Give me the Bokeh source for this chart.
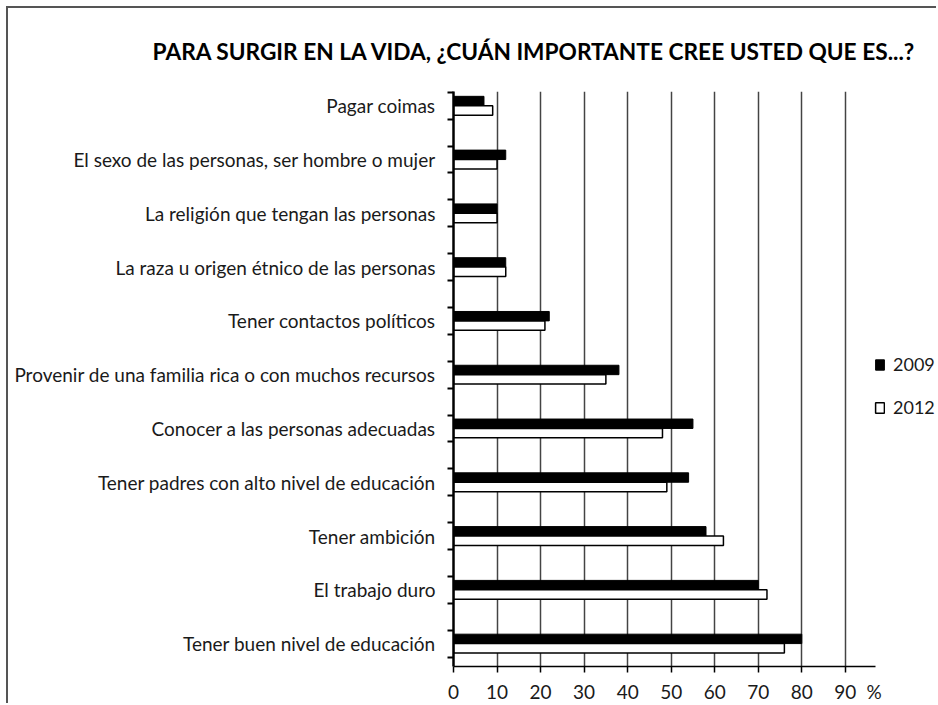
from bokeh.plotting import figure
from bokeh.models import (FixedTicker, Legend, LegendItem, Range1d,
                          ColumnDataSource, Title)
from bokeh.transform import dodge
from bokeh.embed import file_html
from bokeh.resources import INLINE

# ---------------- data (top to bottom as in the chart) ----------------
categories = [
    "Pagar coimas",
    "El sexo de las personas, ser hombre o mujer",
    "La religión que tengan las personas",
    "La raza u origen étnico de las personas",
    "Tener contactos políticos",
    "Provenir de una familia rica o con muchos recursos",
    "Conocer a las personas adecuadas",
    "Tener padres con alto nivel de educación",
    "Tener ambición",
    "El trabajo duro",
    "Tener buen nivel de educación",
]
values_2009 = [7, 12, 10, 12, 22, 38, 55, 54, 58, 70, 80]
values_2012 = [9, 10, 10, 12, 21, 35, 48, 49, 62, 72, 76]
x_ticks = [0, 10, 20, 30, 40, 50, 60, 70, 80, 90]
axis_end = 97
unit_tick = 96.6
series_names = ["2009", "2012"]
title_text = "PARA SURGIR EN LA VIDA, ¿CUÁN IMPORTANTE CREE USTED QUE ES...?"
unit_label = "%"

n = len(categories)
pos = [n - 1 - i for i in range(n)]  # first category at the top
src = ColumnDataSource(dict(y=pos, v2009=values_2009, v2012=values_2012))

FONT = "Lato"
TEXT_COLOR = "#1a1a1a"

y_lo, y_hi = -0.426, n - 1 + 0.265
p = figure(width=930, height=697, output_backend="svg", toolbar_location=None,
           x_range=Range1d(0, 111.4), y_range=Range1d(y_lo, y_hi),
           min_border_left=445, min_border_right=0, min_border_top=82,
           min_border_bottom=38)
p.styles = {"box-shadow": "-2px -2px 0 0 #555", "margin-top": "8px",
            "margin-left": "8px"}
p.outline_line_color = None
p.background_fill_color = "white"
p.border_fill_color = "white"

t = Title(text=title_text, align="left", offset=-301, standoff=54,
          text_font=FONT, text_font_size="22.7px", text_font_style="bold",
          text_color="black")
p.add_layout(t, "above")

bh = 0.175
r09 = p.hbar(y=dodge("y", 0.0875), left=0, right="v2009", height=bh, source=src,
             fill_color="black", line_color="black", line_width=1)
r12 = p.hbar(y=dodge("y", -0.0875), left=0, right="v2012", height=bh, source=src,
             fill_color="white", line_color="black", line_width=1.5)

# x axis: tick marks drawn as "minor" ticks so the "%" label gets no mark
p.xaxis.bounds = (-1.4, axis_end)
p.xaxis.ticker = FixedTicker(ticks=x_ticks + [unit_tick], minor_ticks=x_ticks)
p.xaxis.major_label_overrides = {unit_tick: unit_label}
p.xaxis.major_tick_out = 0
p.xaxis.major_tick_in = 0
p.xaxis.minor_tick_out = 6
p.xaxis.minor_tick_in = 0
p.xaxis.minor_tick_line_color = "black"
p.xaxis.minor_tick_line_width = 1.5
p.xaxis.axis_line_color = "black"
p.xaxis.axis_line_width = 1.5
p.xaxis.major_label_text_font = FONT
p.xaxis.major_label_text_font_size = "19px"
p.xaxis.major_label_text_color = TEXT_COLOR
p.xaxis.major_label_standoff = 7

p.xgrid.ticker = FixedTicker(ticks=x_ticks[1:])
p.xgrid.grid_line_color = "#444"
p.xgrid.grid_line_width = 1.5
p.ygrid.grid_line_color = None

# y axis
minor = []
for y in pos:
    minor += [y - 0.25, y + 0.25]
p.yaxis.bounds = (y_lo - 0.11, y_hi)
p.yaxis.ticker = FixedTicker(ticks=pos, minor_ticks=minor)
p.yaxis.major_label_overrides = {y: c for y, c in zip(pos, categories)}
p.yaxis.major_tick_out = 0
p.yaxis.major_tick_in = 0
p.yaxis.minor_tick_out = 6
p.yaxis.minor_tick_in = 0
p.yaxis.minor_tick_line_color = "black"
p.yaxis.minor_tick_line_width = 2
p.yaxis.axis_line_color = "black"
p.yaxis.axis_line_width = 2.5
p.yaxis.major_label_text_font = FONT
p.yaxis.major_label_text_font_size = "19px"
p.yaxis.major_label_text_color = TEXT_COLOR
p.yaxis.major_label_standoff = 12

legend = Legend(items=[LegendItem(label=series_names[0], renderers=[r09]),
                       LegendItem(label=series_names[1], renderers=[r12])],
                location=(421, 248), orientation="vertical",
                glyph_width=11, glyph_height=13, spacing=21, padding=0, margin=0,
                label_text_font=FONT, label_text_font_size="18px",
                label_text_color=TEXT_COLOR, label_standoff=8,
                border_line_color=None, background_fill_alpha=0)
p.add_layout(legend, "center")

open("out.html", "w").write(file_html(p, INLINE))
